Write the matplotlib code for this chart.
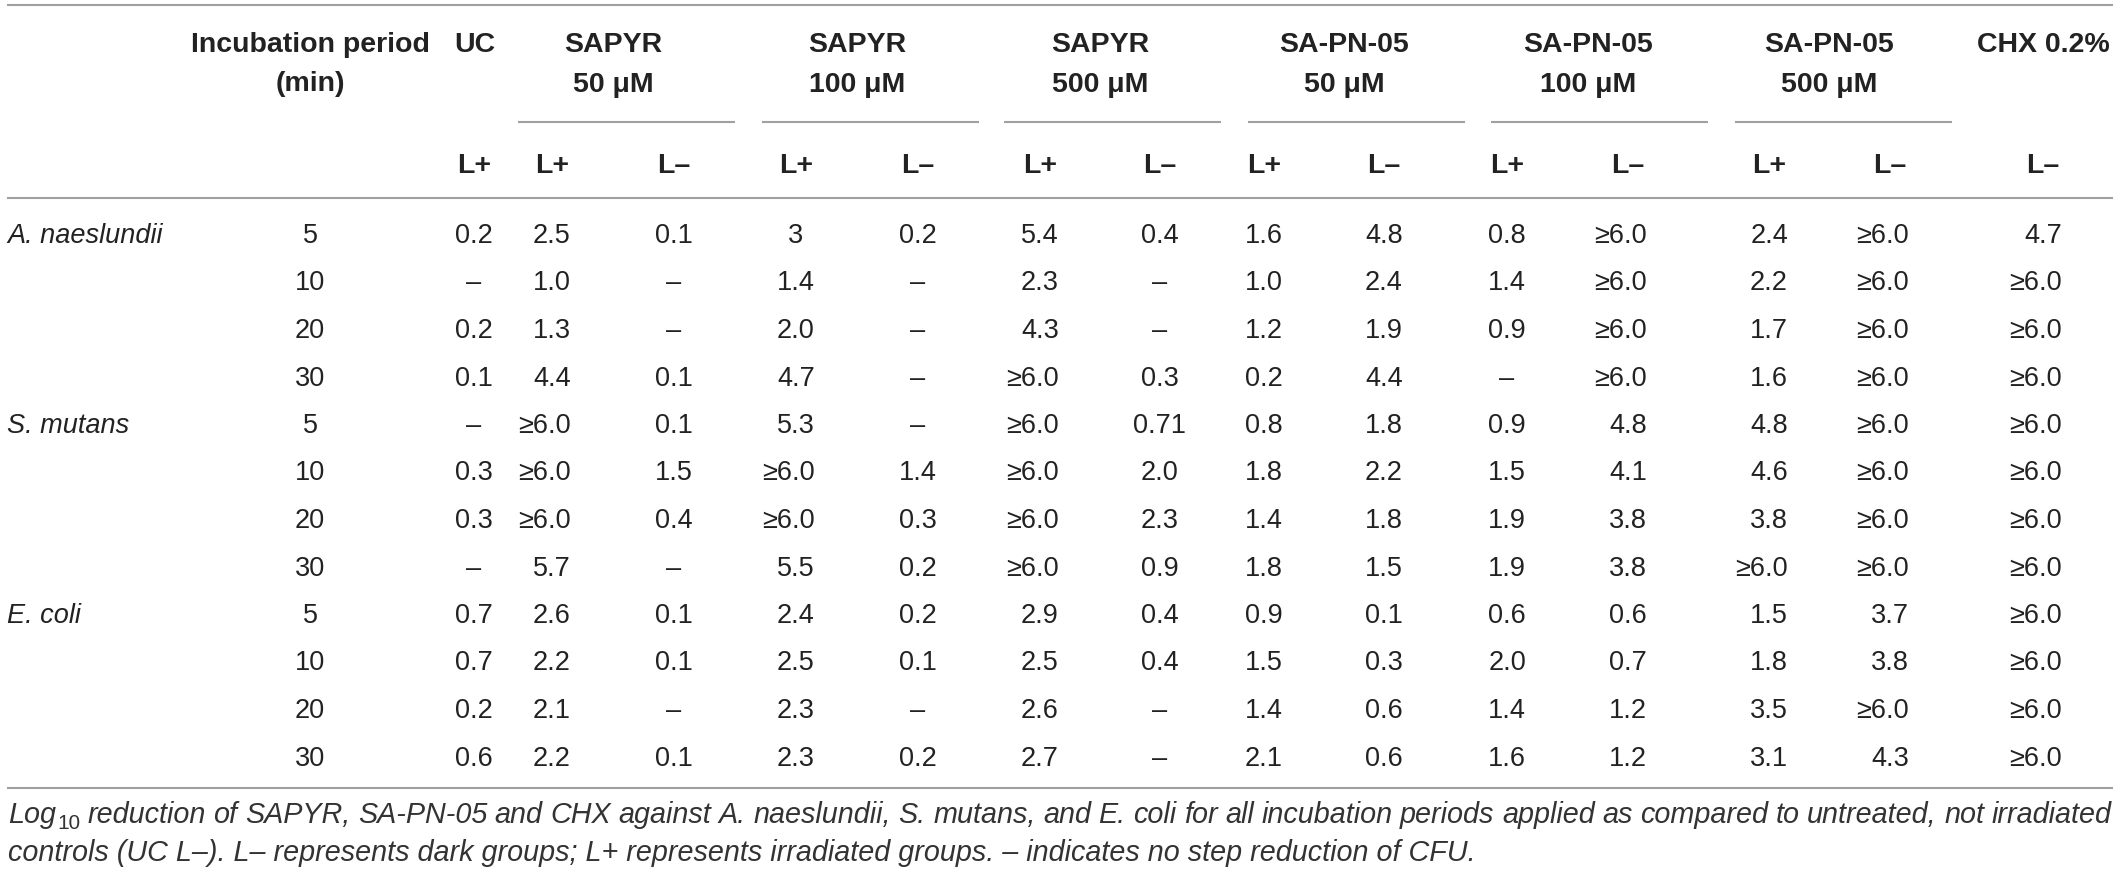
import matplotlib
matplotlib.use('Agg')
import matplotlib.pyplot as plt

plt.rcParams['font.family'] = ['Liberation Sans', 'DejaVu Sans']

# ---- table content ----
species = ['A. naeslundii', 'S. mutans', 'E. coli']
periods = ['5', '10', '20', '30']

group_titles = ['UC', 'SAPYR\n50 \u03bcM', 'SAPYR\n100 \u03bcM', 'SAPYR\n500 \u03bcM',
                'SA-PN-05\n50 \u03bcM', 'SA-PN-05\n100 \u03bcM', 'SA-PN-05\n500 \u03bcM', 'CHX 0.2%']
sub_labels = ['L+', 'L+', 'L\u2013', 'L+', 'L\u2013', 'L+', 'L\u2013',
              'L+', 'L\u2013', 'L+', 'L\u2013', 'L+', 'L\u2013', 'L\u2013']

D = '\u2013'
G = '\u22656.0'
uc_lplus = ['0.2', D, '0.2', '0.1', D, '0.3', '0.3', D, '0.7', '0.7', '0.2', '0.6']
sapyr50_lplus = ['2.5', '1.0', '1.3', '4.4', G, G, G, '5.7', '2.6', '2.2', '2.1', '2.2']
sapyr50_lminus = ['0.1', D, D, '0.1', '0.1', '1.5', '0.4', D, '0.1', '0.1', D, '0.1']
sapyr100_lplus = ['3', '1.4', '2.0', '4.7', '5.3', G, G, '5.5', '2.4', '2.5', '2.3', '2.3']
sapyr100_lminus = ['0.2', D, D, D, D, '1.4', '0.3', '0.2', '0.2', '0.1', D, '0.2']
sapyr500_lplus = ['5.4', '2.3', '4.3', G, G, G, G, G, '2.9', '2.5', '2.6', '2.7']
sapyr500_lminus = ['0.4', D, D, '0.3', '0.71', '2.0', '2.3', '0.9', '0.4', '0.4', D, D]
sapn50_lplus = ['1.6', '1.0', '1.2', '0.2', '0.8', '1.8', '1.4', '1.8', '0.9', '1.5', '1.4', '2.1']
sapn50_lminus = ['4.8', '2.4', '1.9', '4.4', '1.8', '2.2', '1.8', '1.5', '0.1', '0.3', '0.6', '0.6']
sapn100_lplus = ['0.8', '1.4', '0.9', D, '0.9', '1.5', '1.9', '1.9', '0.6', '2.0', '1.4', '1.6']
sapn100_lminus = [G, G, G, G, '4.8', '4.1', '3.8', '3.8', '0.6', '0.7', '1.2', '1.2']
sapn500_lplus = ['2.4', '2.2', '1.7', '1.6', '4.8', '4.6', '3.8', G, '1.5', '1.8', '3.5', '3.1']
sapn500_lminus = [G, G, G, G, G, G, G, G, '3.7', '3.8', G, '4.3']
chx_lminus = ['4.7', G, G, G, G, G, G, G, G, G, G, G]

value_columns = [uc_lplus, sapyr50_lplus, sapyr50_lminus, sapyr100_lplus, sapyr100_lminus,
                 sapyr500_lplus, sapyr500_lminus, sapn50_lplus, sapn50_lminus,
                 sapn100_lplus, sapn100_lminus, sapn500_lplus, sapn500_lminus, chx_lminus]

caption1 = ('reduction of SAPYR, SA-PN-05 and CHX against A. naeslundii, S. mutans, and E. coli '
            'for all incubation periods applied as compared to untreated, not irradiated')
caption2 = ('controls (UC L\u2013). L\u2013 represents dark groups; L+ represents irradiated groups. '
            '\u2013 indicates no step reduction of CFU.')

# ---- layout (pixels) ----
W, H = 2120, 875
col_x = [474, 552, 674, 796, 918, 1040, 1160, 1264, 1384, 1507, 1628, 1769, 1890, 2043]
group_x = [475, 613, 857, 1100, 1344, 1588, 1829, 2043]
underline_x0 = [518, 762, 1004, 1248, 1491, 1735]
underline_w = 217
period_x = 310
row0, row_step = 243, 47.5

txt = '#222222'
rule = '#a0a0a0'
fs_head, fs_body = 20.5, 19.5

fig = plt.figure(figsize=(W / 100, H / 100), dpi=100)
ax = fig.add_axes([0, 0, 1, 1])
ax.set_xlim(0, W)
ax.set_ylim(H, 0)
ax.axis('off')
r = fig.canvas.get_renderer()

def width(t):
    return t.get_window_extent(renderer=r).width

# rules
for y in [5, 198, 788]:
    ax.plot([7, 2113], [y, y], color=rule, lw=1.5, solid_capstyle='butt')
for x0 in underline_x0:
    ax.plot([x0, x0 + underline_w], [122, 122], color=rule, lw=1.5, solid_capstyle='butt')

# header
ax.text(period_x, 52, 'Incubation period', ha='center', va='baseline',
        fontsize=fs_head, fontweight='bold', color=txt)
ax.text(period_x, 91, '(min)', ha='center', va='baseline',
        fontsize=fs_head, fontweight='bold', color=txt)
for gx, title in zip(group_x, group_titles):
    for k, line in enumerate(title.split('\n')):
        ax.text(gx, 52 + 40 * k, line, ha='center', va='baseline',
                fontsize=fs_head, fontweight='bold', color=txt)
for cx, lab in zip(col_x, sub_labels):
    ax.text(cx, 173, lab, ha='center', va='baseline',
            fontsize=fs_head, fontweight='bold', color=txt)

# body
probe = ax.text(0, 0, '6.0', fontsize=fs_body)
half60 = width(probe) / 2
probe.remove()

for i in range(12):
    y = row0 + i * row_step
    if i % 4 == 0:
        ax.text(7, y, species[i // 4], ha='left', va='baseline', fontsize=fs_body,
                fontstyle='italic', color=txt)
    ax.text(period_x, y, periods[i % 4], ha='center', va='baseline',
            fontsize=fs_body, color=txt)
    for cx, col in zip(col_x, value_columns):
        v = col[i]
        if v.startswith('\u2265'):
            ax.text(cx + half60, y, v, ha='right', va='baseline', fontsize=fs_body, color=txt)
        else:
            ax.text(cx, y, v, ha='center', va='baseline', fontsize=fs_body, color=txt)

# caption: size so the second line ends where it does in the original
x_left, x_right, yb1, yb2 = 8, 2112, 823, 861
cap_color = '#333333'
probe = ax.text(0, 0, caption2, fontsize=17, fontstyle='italic')
fs_cap = 17 * (1478 - x_left) / width(probe)
probe.remove()
cap_kw = dict(va='baseline', fontsize=fs_cap, fontstyle='italic', color=cap_color)

# first line justified
t_log = ax.text(x_left, yb1, 'Log', ha='left', **cap_kw)
w_log = width(t_log)
t_sub = ax.text(x_left + w_log + 1, yb1 + 6, '10', ha='left', va='baseline',
                fontsize=fs_cap * 0.72, color=cap_color)
first_w = w_log + 1 + width(t_sub)
words = caption1.split(' ')
word_texts = [ax.text(0, yb1, w, ha='left', **cap_kw) for w in words]
widths = [width(t) for t in word_texts]
gap = (x_right - x_left - first_w - sum(widths)) / len(words)
x = x_left + first_w + gap
for t, w in zip(word_texts, widths):
    t.set_x(x)
    x += w + gap
ax.text(x_left, yb2, caption2, ha='left', **cap_kw)

fig.savefig('out.png', dpi=100, facecolor='white')
